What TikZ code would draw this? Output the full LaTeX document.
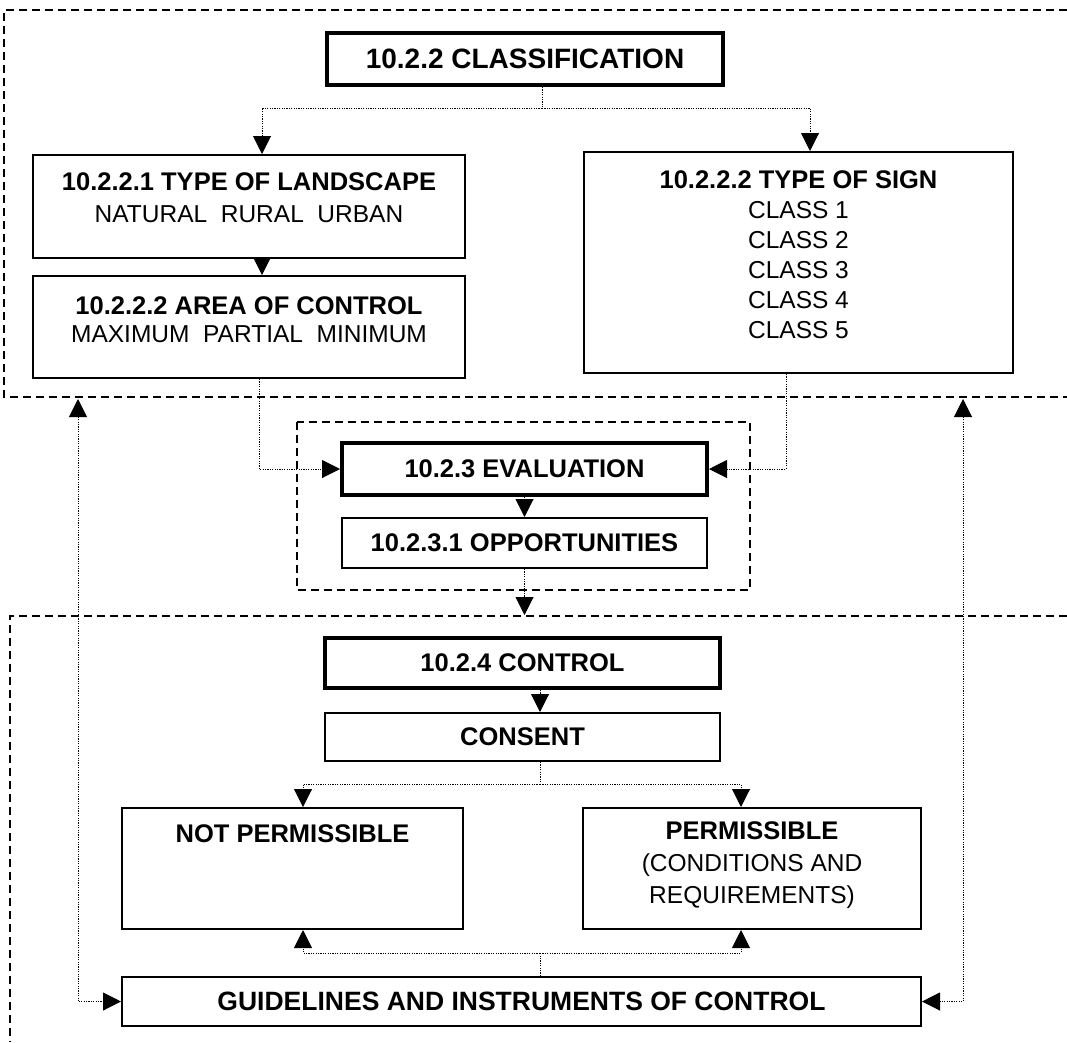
\documentclass[tikz,border=0pt]{standalone}
\usepackage{fontspec}
\setmainfont{Liberation Sans}
\usetikzlibrary{arrows.meta,calc}
\begin{document}
\begin{tikzpicture}[x=1pt,y=-1pt,
  box/.style={draw,line width=2pt,fill=white,inner sep=0pt,rectangle},
  thickbox/.style={box,line width=4pt},
  btxt/.style={font=\fontsize{25.5}{30}\selectfont\bfseries,align=center,inner sep=0pt},
  txt/.style={font=\fontsize{24.5}{30}\selectfont,align=center,inner sep=0pt},
  dot/.style={line width=1pt,dash pattern=on 1.2pt off 1.2pt},
  arr/.style={-{Triangle[length=18pt,width=18pt]}},
  arrb/.style={{Triangle[length=18pt,width=18pt]}-{Triangle[length=18pt,width=18pt]}},
  region/.style={line width=1.3pt,dash pattern=on 8pt off 5pt}
]
\useasboundingbox (0,0) rectangle (1067,1042);
% regions
\draw[region] (1067,10) -- (4,10) -- (4,397) -- (1067,397);
\draw[region] (297,422) rectangle (750,590);
\draw[region] (1067,616) -- (10,616) -- (10,1042);
% boxes
\node[thickbox,minimum width=396pt,minimum height=52pt,btxt,font=\fontsize{28}{30}\selectfont\bfseries] (cls) at (525,59) {10.2.2 CLASSIFICATION};
\node[box,minimum width=432pt,minimum height=103pt] (land) at (249,206.5) {};
\node[box,minimum width=432pt,minimum height=102pt] (area) at (249,327) {};
\node[box,minimum width=429pt,minimum height=221pt] (sign) at (798.5,262.5) {};
\node[thickbox,minimum width=365pt,minimum height=52pt,btxt] (eval) at (524.5,469) {10.2.3 EVALUATION};
\node[box,minimum width=365pt,minimum height=50pt,btxt] (opp) at (524.5,543) {10.2.3.1 OPPORTUNITIES};
\node[thickbox,minimum width=395pt,minimum height=50pt,btxt] (ctrl) at (522.5,663) {10.2.4 CONTROL};
\node[box,minimum width=395pt,minimum height=48pt,btxt] (cons) at (522.5,737) {CONSENT};
\node[box,minimum width=341pt,minimum height=121pt] (notp) at (292.5,868.5) {};
\node[box,minimum width=338pt,minimum height=121pt] (perm) at (752,868.5) {};
\node[box,minimum width=799pt,minimum height=49pt,btxt,font=\fontsize{26.5}{30}\selectfont\bfseries] (guid) at (521.5,1001.5) {GUIDELINES AND INSTRUMENTS OF CONTROL};
% texts in tall boxes
\node[txt,font=\fontsize{24.5}{32}\selectfont] (landt) at ($(land.north)+(0,44)$) {\textbf{\fontsize{25.5}{32}\selectfont 10.2.2.1 TYPE OF LANDSCAPE}\\NATURAL\ \ RURAL\ \ URBAN};
\node[txt,font=\fontsize{24.5}{28}\selectfont] (areat) at ($(area.north)+(0,45)$) {\textbf{\fontsize{25.5}{28}\selectfont 10.2.2.2 AREA OF CONTROL}\\MAXIMUM\ \ PARTIAL\ \ MINIMUM};
\node[txt] (signt) at ($(sign.north)+(0,104)$) {\textbf{\fontsize{25.5}{30}\selectfont 10.2.2.2 TYPE OF SIGN}\\CLASS 1\\CLASS 2\\CLASS 3\\CLASS 4\\CLASS 5};
\node[btxt] (notpt) at ($(notp.north)+(0,27)$) {NOT PERMISSIBLE};
\node[txt,font=\fontsize{24.5}{32}\selectfont] (permt) at ($(perm.north)+(0,58)$) {\textbf{\fontsize{25.5}{32}\selectfont PERMISSIBLE}\\(CONDITIONS AND\\REQUIREMENTS)};
% connectors
\coordinate (j1) at (542,108);
\draw[dot] (cls.south -| j1) -- (j1);
\draw[dot,arr] (j1) -| ($(land.north)+(13,0)$);
\draw[dot,arr] (j1) -| ($(sign.north)+(11.5,0)$);
\draw[dot,arr] ($(land.south)+(13,0)$) -- ($(area.north)+(13,0)$);
\draw[dot,arr] ($(area.south)+(10,0)$) |- (eval.west);
\draw[dot,arr] ($(sign.south)+(-12.5,0)$) |- (eval.east);
\draw[dot,arr] (eval.south) -- (opp.north);
\coordinate (bt) at (524.5,615);
\draw[dot,arr] (opp.south) -- (bt);
\draw[dot,arr] ($(ctrl.south)+(17.5,0)$) -- ($(cons.north)+(17.5,0)$);
\coordinate (j2) at (540,784);
\draw[dot] ($(cons.south)+(17.5,0)$) -- (j2);
\draw[dot,arr] (j2) -| ($(notp.north)+(10.5,0)$);
\draw[dot,arr] (j2) -| ($(perm.north)+(-11,0)$);
\coordinate (j3) at (540,953);
\draw[dot] ($(guid.north)+(18.5,0)$) -- (j3);
\draw[dot,arr] (j3) -| ($(notp.south)+(10.5,0)$);
\draw[dot,arr] (j3) -| ($(perm.south)+(-11,0)$);
\coordinate (fl) at (78,399);
\coordinate (fr) at (963,399);
\draw[dot,arrb] (fl) |- (guid.west);
\draw[dot,arrb] (fr) |- (guid.east);
\end{tikzpicture}
\end{document}
